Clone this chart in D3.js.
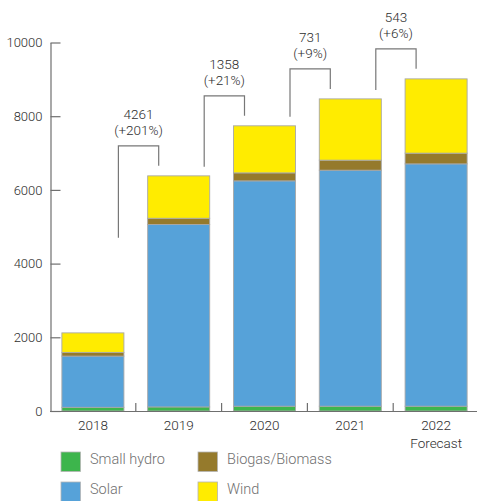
<!DOCTYPE html>
<html>
<head>
<meta charset="utf-8">
<script src="https://cdn.jsdelivr.net/npm/d3@7"></script>
<style>
  html, body { margin: 0; padding: 0; background: #fff; }
  svg { display: block; font-family: Roboto, "Noto Sans", sans-serif; }
  svg text { font-weight: 300; }
</style>
</head>
<body>
<svg id="chart" width="477" height="501"></svg>
<script>
// Installed capacity by source (MW)
const years = ["2018", "2019", "2020", "2021", "2022"];
const yearNotes = ["", "", "", "", "Forecast"];
const smallHydro = [100, 110, 130, 130, 130];
const solar = [1390, 4950, 6115, 6405, 6576];
const biomass = [100, 170, 217, 272, 291];
const wind = [530, 1151, 1277, 1663, 2016];
const yTicks = [0, 2000, 4000, 6000, 8000, 10000];

const seriesKeys = ["Small hydro", "Solar", "Biogas/Biomass", "Wind"];
const seriesValues = [smallHydro, solar, biomass, wind];
const colors = ["#3db54c", "#56a2d9", "#957a2c", "#ffec00"];

const rows = years.map((y, i) => {
  const r = { year: y };
  seriesKeys.forEach((k, j) => { r[k] = seriesValues[j][i]; });
  return r;
});
const totals = rows.map(r => d3.sum(seriesKeys, k => r[k]));

const svg = d3.select("#chart");
const FONT = "Roboto, 'Noto Sans', sans-serif";

const x = d3.scaleBand().domain(years).range([50, 479])
  .paddingInner(0.277).paddingOuter(0.1385);
const y = d3.scaleLinear().domain([0, 10000]).range([411, 42.5]);
const color = d3.scaleOrdinal().domain(seriesKeys).range(colors);

const stacked = d3.stack().keys(seriesKeys)(rows);

// Stacked bars
svg.append("g")
  .selectAll("g")
  .data(stacked)
  .join("g")
  .attr("fill", d => color(d.key))
  .selectAll("rect")
  .data(d => d)
  .join("rect")
  .attr("x", d => x(d.data.year))
  .attr("width", x.bandwidth())
  .attr("y", d => y(d[1]))
  .attr("height", d => y(d[0]) - y(d[1]))
  .attr("stroke", "#a8a8a8")
  .attr("stroke-width", 0.9);

// Y axis with ticks pointing into the plot
const yAxis = svg.append("g")
  .attr("transform", "translate(50.5,0)")
  .call(d3.axisLeft(y).tickValues(yTicks).tickFormat(d3.format("d"))
    .tickSizeInner(-10).tickSizeOuter(0).tickPadding(8))
  .attr("font-family", FONT).attr("font-size", 13);
yAxis.select(".domain").attr("stroke", "#6f6f6f").attr("stroke-width", 1.2);
yAxis.selectAll(".tick line").attr("stroke", "#6f6f6f").attr("stroke-width", 1.2);
yAxis.selectAll(".tick text").attr("fill", "#2e2e2e");

// X axis
const xAxis = svg.append("g")
  .attr("transform", "translate(0,411)")
  .call(d3.axisBottom(x).tickSize(0).tickSizeOuter(0).tickPadding(9))
  .attr("font-family", FONT).attr("font-size", 13.5);
xAxis.select(".domain").remove();
xAxis.append("line")
  .attr("x1", 50).attr("x2", 477).attr("y1", 0.5).attr("y2", 0.5)
  .attr("stroke", "#6f6f6f").attr("stroke-width", 1.2);
xAxis.selectAll(".tick text").attr("fill", "#2e2e2e");
xAxis.selectAll(".tick").each(function (d, i) {
  if (yearNotes[i]) {
    d3.select(this).append("text")
      .attr("fill", "#2e2e2e").attr("y", 27).attr("dy", "0.71em")
      .attr("text-anchor", "middle")
      .attr("font-family", FONT).attr("font-size", 13.5)
      .text(yearNotes[i]);
  }
});

// Small separators between categories
const step = x.step();
svg.append("g")
  .selectAll("line")
  .data(years.slice(1))
  .join("line")
  .attr("x1", d => x(d) - step * x.paddingInner() / 2)
  .attr("x2", d => x(d) - step * x.paddingInner() / 2)
  .attr("y1", 411).attr("y2", 403)
  .attr("stroke", "#6f6f6f").attr("stroke-width", 1.2);

// Year-over-year change brackets
const fmtPct = d3.format(".0%");
const changes = years.slice(1).map((yr, i) => {
  const prev = totals[i], next = totals[i + 1];
  return { from: years[i], to: yr, prev, next, diff: next - prev, pct: (next - prev) / prev };
});

const brackets = svg.append("g").attr("font-family", FONT).attr("font-size", 13.5);
changes.forEach(c => {
  const xl = x(c.from) + x.bandwidth() / 2 + 25.5;
  const xr = x(c.to) + x.bandwidth() / 2 - 20;
  const top = y(c.next) - 30;
  const leftEnd = Math.min(y(c.prev) - 9, top + 92);
  const rightEnd = y(c.next) - 10;
  brackets.append("path")
    .attr("d", `M${xl},${leftEnd}V${top}H${xr}V${rightEnd}`)
    .attr("fill", "none")
    .attr("stroke", "#777")
    .attr("stroke-width", 1.2);
  const cx = (xl + xr) / 2;
  brackets.append("text")
    .attr("x", cx).attr("y", top - 27)
    .attr("text-anchor", "middle").attr("fill", "#2e2e2e")
    .text(d3.format("d")(c.diff));
  brackets.append("text")
    .attr("x", cx).attr("y", top - 10.5)
    .attr("text-anchor", "middle").attr("fill", "#2e2e2e")
    .text("(+" + fmtPct(c.pct) + ")");
});

// Legend
const legendPos = [[61, 452], [198, 452], [61, 482], [198, 482]];
const legendOrder = ["Small hydro", "Biogas/Biomass", "Solar", "Wind"];
const legend = svg.append("g")
  .attr("font-family", FONT).attr("font-size", 14.5)
  .selectAll("g")
  .data(legendOrder)
  .join("g")
  .attr("transform", (d, i) => `translate(${legendPos[i][0]},${legendPos[i][1]})`);
legend.append("rect")
  .attr("width", 19.5).attr("height", 19.5)
  .attr("fill", d => color(d))
  .attr("stroke", "#b5b5b5").attr("stroke-width", 0.8);
legend.append("text")
  .attr("x", 29).attr("y", 12)
  .attr("fill", "#707070")
  .text(d => d);
</script>
</body>
</html>
